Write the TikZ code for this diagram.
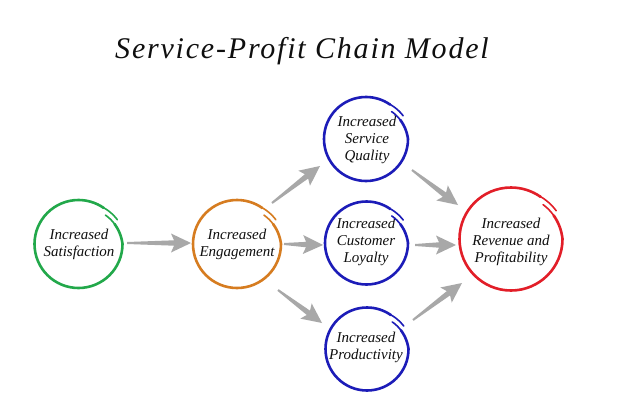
\documentclass[tikz,border=0pt]{standalone}
\usepackage{fontspec}
\setmainfont{Liberation Serif}
\usetikzlibrary{calc}
\definecolor{cgreen}{RGB}{34,168,74}
\definecolor{corange}{RGB}{214,124,32}
\definecolor{cblue}{RGB}{28,28,184}
\definecolor{cred}{RGB}{226,30,40}
\definecolor{agray}{RGB}{168,168,168}
\definecolor{txt}{RGB}{15,15,15}
% ring drawn round a node: node, radius, colour, offset
\newcommand\spiralring[4]{%
  \begin{scope}[shift={($(#1.center)+(#4)$)}]
    % inner starting tail
    \draw[#3, ringtip] plot[domain=-47:-27, samples=12, smooth]
      ({(#2-4.5+4.5*(\x+47)/47)*cos(\x)},{(#2-4.5+4.5*(\x+47)/47)*sin(\x)});
    \draw[#3, ring] plot[domain=-29:0, samples=16, smooth]
      ({(#2-4.5+4.5*(\x+47)/47)*cos(\x)},{(#2-4.5+4.5*(\x+47)/47)*sin(\x)});
    % main circle
    \draw[#3, ring] (0:#2) arc[start angle=0, end angle=305, radius=#2];
    % outer ending overshoot
    \draw[#3, ringtip] plot[domain=303:328, samples=14, smooth]
      ({(#2+1.8*(\x-303)/25)*cos(\x)},{(#2+1.8*(\x-303)/25)*sin(\x)});
  \end{scope}}
\newcommand\taper[2]{%
  \coordinate (tJ) at ($(#2)!17pt!(#1)$);
  \coordinate (tW) at ($(#2)!20pt!(#1)$);
  \fill[agray] ($(#1)!1pt!90:(#2)$) -- ($(tJ)!2.7pt!90:(#2)$) -- ($(tW)!9.5pt!90:(#2)$)
    -- (#2) -- ($(tW)!9.5pt!-90:(#2)$) -- ($(tJ)!2.7pt!-90:(#2)$)
    -- ($(#1)!1pt!-90:(#2)$) -- cycle;}
\tikzset{
  lbl/.style={align=center, font=\itshape\fontsize{15}{17}\selectfont, text=txt, inner sep=0pt},
  ring/.style={line width=2.6pt, line cap=round},
  ringtip/.style={line width=1.6pt, line cap=round},
  titlefont/.style={font=\itshape\fontsize{30}{34}\selectfont\addfontfeatures{LetterSpace=6}, text=txt, inner sep=0pt}
}
\begin{document}
\begin{tikzpicture}[x=1pt,y=-1pt]
\fill[white] (0,0) rectangle (640,402);
\useasboundingbox (0,0) rectangle (640,402);
\node[titlefont, anchor=base] (title) at (302,58) {Service-Profit Chain Model};
\node[lbl] (sat) at (79,244) {Increased\\Satisfaction};
\node[lbl] (eng) at (237,244) {Increased\\Engagement};
\node[lbl] (qual) at (367,140) {Increased\\Service\\Quality};
\node[lbl] (loy) at (366,242) {Increased\\Customer\\Loyalty};
\node[lbl] (prod) at (366,347) {Increased\\Productivity};
\node[lbl] (rev) at (511,242) {Increased\\Revenue and\\Profitability};
\spiralring{sat}{44}{cgreen}{-0.5,0}
\spiralring{eng}{44}{corange}{0,0}
\spiralring{qual}{42}{cblue}{-1,-1}
\spiralring{loy}{41.5}{cblue}{0.5,1}
\spiralring{prod}{41.5}{cblue}{1,2}
\spiralring{rev}{51.5}{cred}{0,-3}
\coordinate (a1s) at (127,243); \coordinate (a1e) at (191,243);
\coordinate (a2s) at (272,203); \coordinate (a2e) at (320,166);
\coordinate (a3s) at (284,244); \coordinate (a3e) at (323,245);
\coordinate (a4s) at (278,290); \coordinate (a4e) at (322,323);
\coordinate (a5s) at (412,170); \coordinate (a5e) at (458,205);
\coordinate (a6s) at (415,245); \coordinate (a6e) at (456,245);
\coordinate (a7s) at (413,320); \coordinate (a7e) at (462,283);
\taper{a1s}{a1e}
\taper{a2s}{a2e}
\taper{a3s}{a3e}
\taper{a4s}{a4e}
\taper{a5s}{a5e}
\taper{a6s}{a6e}
\taper{a7s}{a7e}
\end{tikzpicture}
\end{document}
